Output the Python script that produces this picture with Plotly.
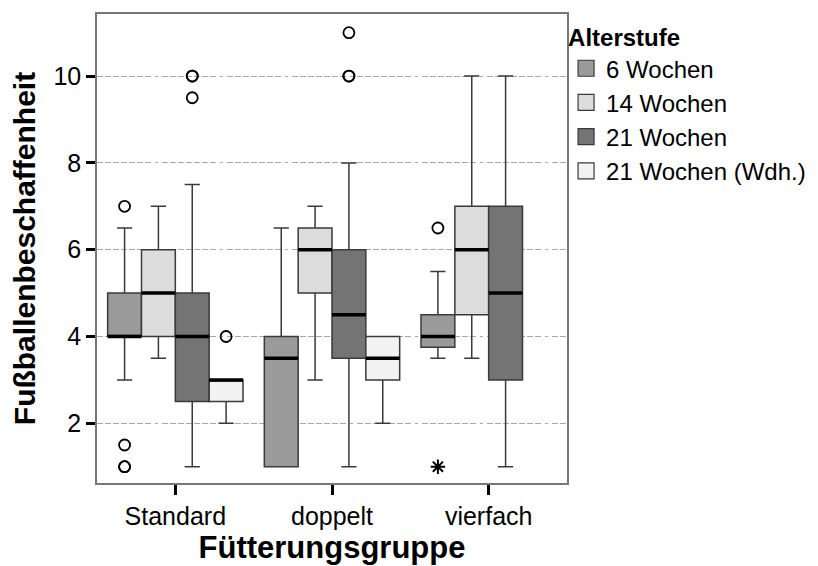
import plotly.graph_objects as go

# ---------------- data ----------------
groups = ["Standard", "doppelt", "vierfach"]
series = ["6 Wochen", "14 Wochen", "21 Wochen", "21 Wochen (Wdh.)"]

# 6 Wochen
q1_6 = [4, 1, 3.75]
med_6 = [4, 3.5, 4]
q3_6 = [5, 4, 4.5]
lo_6 = [3, 1, 3.5]
hi_6 = [6.5, 6.5, 5.5]
out_6 = [[7, 1.5, 1, 1], [], [6.5]]
ext_6 = [[], [], [1]]

# 14 Wochen
q1_14 = [4, 5, 4.5]
med_14 = [5, 6, 6]
q3_14 = [6, 6.5, 7]
lo_14 = [3.5, 3, 3.5]
hi_14 = [7, 7, 10]
out_14 = [[], [], []]
ext_14 = [[], [], []]

# 21 Wochen
q1_21 = [2.5, 3.5, 3]
med_21 = [4, 4.5, 5]
q3_21 = [5, 6, 7]
lo_21 = [1, 1, 1]
hi_21 = [7.5, 8, 10]
out_21 = [[10, 10, 9.5], [11, 10, 10], []]
ext_21 = [[], [], []]

# 21 Wochen (Wdh.)
q1_w = [2.5, 3, None]
med_w = [3, 3.5, None]
q3_w = [3, 4, None]
lo_w = [2, 2, None]
hi_w = [3, 4, None]
out_w = [[4], [], []]
ext_w = [[], [], []]

yticks = [2, 4, 6, 8, 10]

# ---------------- style ----------------
fills = ["#9a9a9a", "#dcdcdc", "#747474", "#f2f2f2"]
BOXW = 0.216
FONT = "Liberation Sans, Arial, sans-serif"

stats = [
    (q1_6, med_6, q3_6, lo_6, hi_6, out_6, ext_6),
    (q1_14, med_14, q3_14, lo_14, hi_14, out_14, ext_14),
    (q1_21, med_21, q3_21, lo_21, hi_21, out_21, ext_21),
    (q1_w, med_w, q3_w, lo_w, hi_w, out_w, ext_w),
]

fig = go.Figure()

for k, (name, fill, st) in enumerate(zip(series, fills, stats)):
    q1, med, q3, lo, hi, outs, exts = st
    off = (k - 1.5) * BOXW
    idx = [i for i in range(len(groups)) if med[i] is not None]
    xs = [i + off for i in idx]
    fig.add_trace(go.Box(
        x=xs,
        q1=[q1[i] for i in idx], median=[med[i] for i in idx], q3=[q3[i] for i in idx],
        lowerfence=[lo[i] for i in idx], upperfence=[hi[i] for i in idx],
        width=BOXW, whiskerwidth=0.45,
        fillcolor=fill, line=dict(color="#3a3a3a", width=1.5),
        name=name, showlegend=False, hoverinfo="skip",
    ))
    # thick medians
    mx, my = [], []
    for i in idx:
        mx += [i + off - BOXW / 2, i + off + BOXW / 2, None]
        my += [med[i], med[i], None]
    fig.add_trace(go.Scatter(x=mx, y=my, mode="lines",
                             line=dict(color="black", width=3.5),
                             showlegend=False, hoverinfo="skip"))
    # outliers
    ox, oy = [], []
    for i in range(len(groups)):
        for v in outs[i]:
            ox.append(i + off)
            oy.append(v)
    if ox:
        fig.add_trace(go.Scatter(x=ox, y=oy, mode="markers",
                                 marker=dict(symbol="circle-open", size=11, color="black",
                                             line=dict(width=1.8, color="black")),
                                 showlegend=False, hoverinfo="skip"))
    ex, ey = [], []
    for i in range(len(groups)):
        for v in exts[i]:
            ex.append(i + off)
            ey.append(v)
    if ex:
        fig.add_trace(go.Scatter(x=ex, y=ey, mode="markers",
                                 marker=dict(symbol="asterisk-open", size=12, color="black",
                                             line=dict(width=2, color="black")),
                                 showlegend=False, hoverinfo="skip"))

# legend entries
for name, fill in zip(series, fills):
    fig.add_trace(go.Scatter(x=[None], y=[None], mode="markers", name=name,
                             marker=dict(symbol="square", size=16, color=fill,
                                         line=dict(color="#3a3a3a", width=1.2))))

grid_dash = "6px,2px,6px,2px,6px,2px,6px,2px,6px,2px,6px,2px,6px,4px,3px,4px"

# the page body has an 8px margin, so the figure is drawn 8px smaller
fig.update_layout(
    width=810, height=558,
    margin=dict(l=89, r=251, t=6, b=83, autoexpand=False),
    paper_bgcolor="white", plot_bgcolor="white",
    font=dict(family=FONT, size=25, color="black"),
    showlegend=True,
    xaxis=dict(
        range=[-0.5, 2.5], tickvals=[0, 1, 2], ticktext=groups,
        ticks="outside", ticklen=10, tickwidth=3, tickcolor="black",
        showline=True, linecolor="#777777", linewidth=1.5, mirror=True,
        showgrid=False, zeroline=False, automargin=False,
        title=dict(text="Fütterungsgruppe", font=dict(size=31, weight="bold"), standoff=6),
    ),
    yaxis=dict(
        range=[0.625, 11.43], tickvals=yticks,
        ticks="outside", ticklen=9, tickwidth=3, tickcolor="black",
        showline=True, linecolor="#777777", linewidth=1.5, mirror=True,
        showgrid=True, gridcolor="#a8a8a8", gridwidth=1, griddash=grid_dash,
        zeroline=False, automargin=False,
        title=dict(text="Fußballenbeschaffenheit", font=dict(size=30, weight="bold"), standoff=10),
    ),
    legend=dict(
        title=dict(text="Alterstufe", font=dict(size=24, weight="bold")),
        x=0.998, xanchor="left", y=0.998, yanchor="top",
        font=dict(size=24), bgcolor="rgba(0,0,0,0)",
        itemclick=False, itemdoubleclick=False,
    ),
)

fig.write_html("out.html")
